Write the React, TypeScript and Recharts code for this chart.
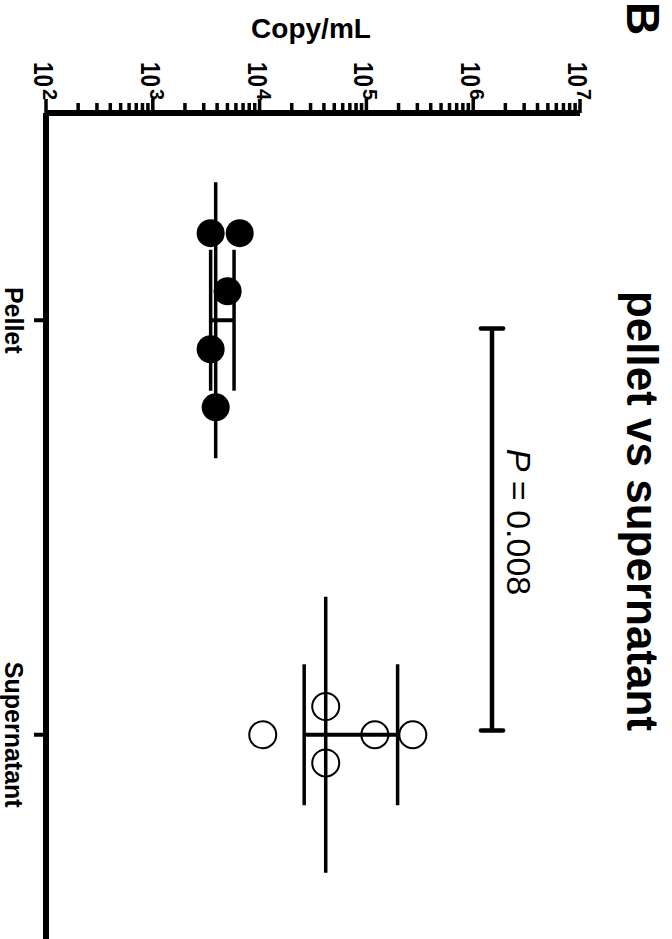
import React from 'react';
import { ScatterChart, Scatter, XAxis, YAxis, ReferenceLine } from 'recharts';

// values (copies/mL)
const categories = ['Pellet', 'Supernatant'];
const pelletValues = [3480, 6510, 5020, 3480, 3880];
const pelletSpread = [-0.21, -0.21, -0.07, 0.07, 0.21];
const supernatantValues = [10700, 41600, 41600, 120000, 272000];
const supernatantSpread = [0, -0.068, 0.068, 0, 0];
const decades = [2, 3, 4, 5, 6, 7];
const sigLevel = 1.5e6;
const pValue = '0.008';

const FONT = '"Liberation Sans", Arial, Helvetica, sans-serif';

// chart is drawn upright then turned a quarter clockwise
const W = 960;
const H = 672;

const logTicks: number[] = [];
decades.forEach((d, i) => {
  logTicks.push(10 ** d);
  if (i < decades.length - 1) {
    for (let m = 2; m <= 9; m++) logTicks.push(m * 10 ** d);
  }
});

function quantile(values: number[], p: number) {
  const s = [...values].sort((a, b) => a - b);
  const pos = (s.length + 1) * p - 1;
  const lo = Math.max(0, Math.floor(pos));
  const hi = Math.min(s.length - 1, Math.ceil(pos));
  return s[lo] + (s[hi] - s[lo]) * (pos - Math.floor(pos));
}

const pelletPoints = pelletValues.map((y, i) => ({ x: 1 + pelletSpread[i], y }));
const supernatantPoints = supernatantValues.map((y, i) => ({ x: 2 + supernatantSpread[i], y }));

function LogTick(props: any) {
  const { x, y, payload } = props;
  const e = Math.log10(payload.value);
  const exp = Math.round(e);
  const major = Math.abs(e - exp) < 1e-9;
  return (
    <g>
      <line x1={x - (major ? 14 : 10)} y1={y} x2={x} y2={y} stroke="#000" strokeWidth={3.5} />
      {major && (
        <>
          <text
            x={x - 51}
            y={y + 12}
            textLength={25}
            lengthAdjust="spacingAndGlyphs"
            fontFamily={FONT}
            fontWeight={700}
            fontSize={28}
            fill="#000"
          >
            10
          </text>
          <text x={x - 24} y={y + 3} textAnchor="start" fontFamily={FONT} fontWeight={700} fontSize={20} fill="#000">
            {exp}
          </text>
        </>
      )}
    </g>
  );
}

const line = { stroke: '#000', strokeWidth: 3.5, ifOverflow: 'visible' as const };

function summary(center: number, values: number[], key: string) {
  const q1 = quantile(values, 0.25);
  const med = quantile(values, 0.5);
  const q3 = quantile(values, 0.75);
  return [
    <ReferenceLine key={key + 'm'} segment={[{ x: center - 0.333, y: med }, { x: center + 0.333, y: med }]} {...line} />,
    <ReferenceLine key={key + 'v'} segment={[{ x: center, y: q1 }, { x: center, y: q3 }]} {...line} strokeWidth={4} />,
    <ReferenceLine key={key + 'l'} segment={[{ x: center - 0.17, y: q1 }, { x: center + 0.17, y: q1 }]} {...line} />,
    <ReferenceLine key={key + 'h'} segment={[{ x: center - 0.17, y: q3 }, { x: center + 0.17, y: q3 }]} {...line} />,
  ];
}

const capFactor = 1.27;

export default function App() {
  return (
    <div style={{ position: 'absolute', left: 0, top: 0, width: 672, height: 939, overflow: 'hidden', background: '#fff' }}>
      <div
        style={{
          position: 'absolute',
          left: 0,
          top: 0,
          width: W,
          height: H,
          transformOrigin: '0 0',
          transform: 'translateX(672px) rotate(90deg)',
        }}
      >
        <ScatterChart width={W} height={H} margin={{ top: 92, right: 18, bottom: 0, left: 0 }}>
          <XAxis
            type="number"
            dataKey="x"
            domain={[0.5, 2.5]}
            ticks={[1, 2]}
            interval={0}
            tickFormatter={(v: number) => categories[v - 1]}
            height={46}
            axisLine={{ stroke: '#000', strokeWidth: 6 }}
            tickLine={{ stroke: '#000', strokeWidth: 4 }}
            tickSize={12}
            tickMargin={11}
            tick={{ fontSize: 25, fontWeight: 700, fill: '#000', fontFamily: FONT }}
            allowDataOverflow
          />
          <YAxis
            type="number"
            dataKey="y"
            scale="log"
            domain={[100, 10000000]}
            ticks={logTicks}
            interval={0}
            width={113}
            tickSize={0}
            tickMargin={0}
            tickLine={false}
            axisLine={{ stroke: '#000', strokeWidth: 6 }}
            tick={<LogTick />}
            allowDataOverflow
          />
          <Scatter
            data={pelletPoints}
            isAnimationActive={false}
            shape={(p: any) => <circle cx={p.cx} cy={p.cy} r={14} fill="#000" />}
          />
          <Scatter
            data={supernatantPoints}
            isAnimationActive={false}
            shape={(p: any) => <circle cx={p.cx} cy={p.cy} r={13.5} fill="none" stroke="#000" strokeWidth={2} />}
          />
          {summary(1, pelletValues, 'p')}
          {summary(2, supernatantValues, 's')}
          <ReferenceLine segment={[{ x: 1.02, y: sigLevel }, { x: 1.99, y: sigLevel }]} {...line} strokeWidth={4.5} />
          <ReferenceLine
            segment={[{ x: 1.02, y: sigLevel / capFactor }, { x: 1.02, y: sigLevel * capFactor }]}
            {...line}
            strokeWidth={4.5}
            strokeLinecap="round"
          />
          <ReferenceLine
            segment={[{ x: 1.99, y: sigLevel / capFactor }, { x: 1.99, y: sigLevel * capFactor }]}
            {...line}
            strokeWidth={4.5}
            strokeLinecap="round"
          />
        </ScatterChart>
        <svg width={W} height={H} style={{ position: 'absolute', left: 0, top: 0, pointerEvents: 'none' }}>
          <text x={2} y={45} textAnchor="start" fontFamily={FONT} fontWeight={700} fontSize={46} fill="#000">
            B
          </text>
          <text x={511} y={45} textAnchor="middle" fontFamily={FONT} fontWeight={700} fontSize={44} fill="#000">
            pellet vs supernatant
          </text>
          <text x={522} y={165} textAnchor="middle" fontFamily={FONT} fontSize={34} fill="#000">
            <tspan fontStyle="italic">P</tspan> = {pValue}
          </text>
          <text
            x={38}
            y={361}
            textAnchor="middle"
            transform="rotate(-90 38 361)"
            fontFamily={FONT}
            fontWeight={700}
            fontSize={28}
            fill="#000"
          >
            Copy/mL
          </text>
        </svg>
      </div>
    </div>
  );
}
